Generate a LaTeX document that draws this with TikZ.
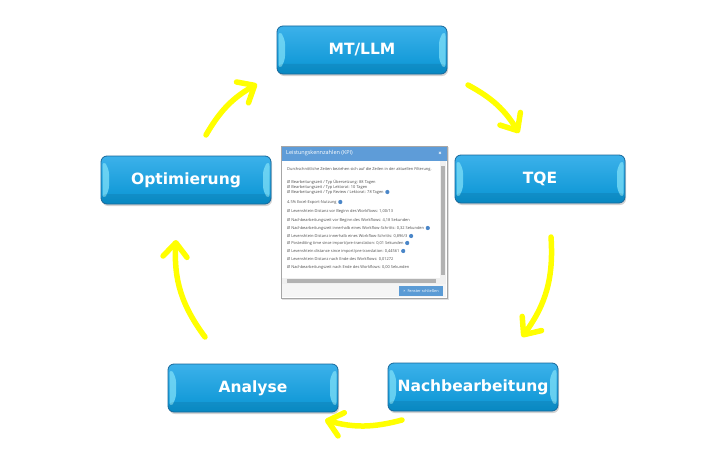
\documentclass[tikz,border=0pt]{standalone}
\usepackage{fontspec}
\setmainfont{DejaVu Sans}
\newfontfamily\uifont{Open Sans}
\usetikzlibrary{arrows.meta,shadows}
\definecolor{boxtop}{HTML}{3CB1EA}
\definecolor{boxbot}{HTML}{0894D3}
\definecolor{boxedge}{HTML}{17679A}
\definecolor{bevel}{HTML}{7FE0F8}
\definecolor{arrowyellow}{HTML}{FFFF00}
\definecolor{titleblue}{HTML}{5E9CD8}
\definecolor{btnblue}{HTML}{5B9BD5}
\definecolor{infoblue}{HTML}{4A86C8}
\tikzset{
  stepbtn/.style={rounded corners=6pt, minimum width=170pt, minimum height=48pt,
    top color=boxtop, bottom color=boxbot, draw=boxedge, line width=0.8pt,
    text=white, font=\bfseries\fontsize{15.5}{18}\selectfont,
    drop shadow={shadow xshift=1pt, shadow yshift=-2pt, opacity=0.35},
    path picture={
      \fill[bevel, opacity=0.75] ([shift={(1.5pt,-4pt)}]path picture bounding box.north west)
        -- ([shift={(8pt,-12pt)}]path picture bounding box.north west)
        -- ([shift={(8pt,12pt)}]path picture bounding box.south west)
        -- ([shift={(1.5pt,4pt)}]path picture bounding box.south west) -- cycle;
      \fill[bevel, opacity=0.75] ([shift={(-1.5pt,-4pt)}]path picture bounding box.north east)
        -- ([shift={(-8pt,-12pt)}]path picture bounding box.north east)
        -- ([shift={(-8pt,12pt)}]path picture bounding box.south east)
        -- ([shift={(-1.5pt,4pt)}]path picture bounding box.south east) -- cycle;
      \fill[black, opacity=0.08] (path picture bounding box.south west) rectangle ([yshift=10pt]path picture bounding box.south east);
    }},
  cyc/.style={draw=arrowyellow, line width=5.5pt, line cap=round,
    -{Straight Barb[length=14pt,width=24pt,round]}},
  kpi/.style={anchor=west, inner sep=0pt, font=\uifont\fontsize{3.95}{4.5}\selectfont, text=black!70},
  infoicon/.style={circle, fill=infoblue, inner sep=0pt, minimum size=4.2pt},
}
\begin{document}
\begin{tikzpicture}[x=1pt,y=1pt]
\useasboundingbox (0,0) rectangle (720,451);
% process boxes
\node[stepbtn] (mt) at (362,401) {MT/LLM};
\node[stepbtn] (tqe) at (540,272) {TQE};
\node[stepbtn] (nach) at (473,64) {Nachbearbeitung};
\node[stepbtn] (ana) at (253,63) {Analyse};
\node[stepbtn] (opt) at (186,271) {Optimierung};
% cycle arrows
\coordinate (a1s) at (206,316); \coordinate (a1e) at (257,367);
\coordinate (a2s) at (468,366); \coordinate (a2e) at (519,318);
\coordinate (a3s) at (551,214); \coordinate (a3e) at (522,114);
\coordinate (a4s) at (402,31);  \coordinate (a4e) at (325,31);
\coordinate (a5s) at (205,114); \coordinate (a5e) at (176,211);
\draw[cyc] (a1s) to[bend left=15] (a1e);
\draw[cyc] (a2s) to[bend left=15] (a2e);
\draw[cyc] (a3s) to[bend left=20] (a3e);
\draw[cyc] (a4s) to[bend left=15] (a4e);
\draw[cyc] (a5s) to[bend left=20] (a5e);
% KPI window
\fill[black, opacity=0.12] (282,151.5) rectangle (448.5,304);
\fill[white] (281,153) rectangle (447,305);
\fill[titleblue] (281,290) rectangle (447,305);
\node[anchor=west, inner sep=0pt, text=white, font=\uifont\fontsize{5.5}{6}\selectfont] (ttl) at (286,297.5) {Leistungskennzahlen (KPI)};
\node[inner sep=0pt, text=white, font=\uifont\bfseries\fontsize{6}{6}\selectfont] (cls) at (440,297.5) {×};
% scrollbars and footer
\fill[black!6] (440,167) rectangle (446,290);
\fill[black!30] (441,176) rectangle (445,285);
\fill[black!6] (282,167) rectangle (440,173);
\fill[black!30] (287,168.3) rectangle (436,171.7);
\fill[black!4] (282,154) rectangle (446,167);
\fill[btnblue] (399,155.5) rectangle (443,165);
\node[inner sep=0pt, text=white, font=\uifont\fontsize{3.8}{4}\selectfont] (btn) at (421,160.2) {× \ Fenster schließen};
\draw[black!35, line width=0.4pt] (281,153) rectangle (447,305);
% KPI text
\node[kpi] (t0) at (287,282) {Durchschnittliche Zeiten beziehen sich auf die Zeilen in der aktuellen Filterung.};
\node[kpi] (t1) at (287,269) {Ø Bearbeitungszeit / Typ Übersetzung: 88 Tagen};
\node[kpi] (t2) at (287,264) {Ø Bearbeitungszeit / Typ Lektorat: 10 Tagen};
\node[kpi] (t3) at (287,259) {Ø Bearbeitungszeit / Typ Review / Lektorat: 78 Tagen};
\node[kpi] (t4) at (287,249) {4.5\% Excel-Export-Nutzung};
\node[kpi] (t5) at (287,240) {Ø Levenshtein-Distanz vor Beginn des Workflows: 1,00/13};
\node[kpi] (t6) at (287,231) {Ø Nachbearbeitungszeit vor Beginn des Workflows: 4,18 Sekunden};
\node[kpi] (t7) at (287,223) {Ø Nachbearbeitungszeit innerhalb eines Workflow-Schritts: 0,32 Sekunden};
\node[kpi] (t8) at (287,215) {Ø Levenshtein-Distanz innerhalb eines Workflow-Schritts: 0,896/3};
\node[kpi] (t9) at (287,208) {Ø Postediting time since import/pre-translation: 0,01 Sekunden};
\node[kpi] (t10) at (287,200) {Ø Levenshtein distance since import/pre-translation: 0,44561};
\node[kpi] (t11) at (287,192) {Ø Levenshtein-Distanz nach Ende des Workflows: 0,01272};
\node[kpi] (t12) at (287,184) {Ø Nachbearbeitungszeit nach Ende des Workflows: 0,00 Sekunden};
\foreach \t in {t3,t4,t7,t8,t9,t10}
  \node[infoicon] (i\t) at ([xshift=3.5pt]\t.east) {};
\end{tikzpicture}
\end{document}
